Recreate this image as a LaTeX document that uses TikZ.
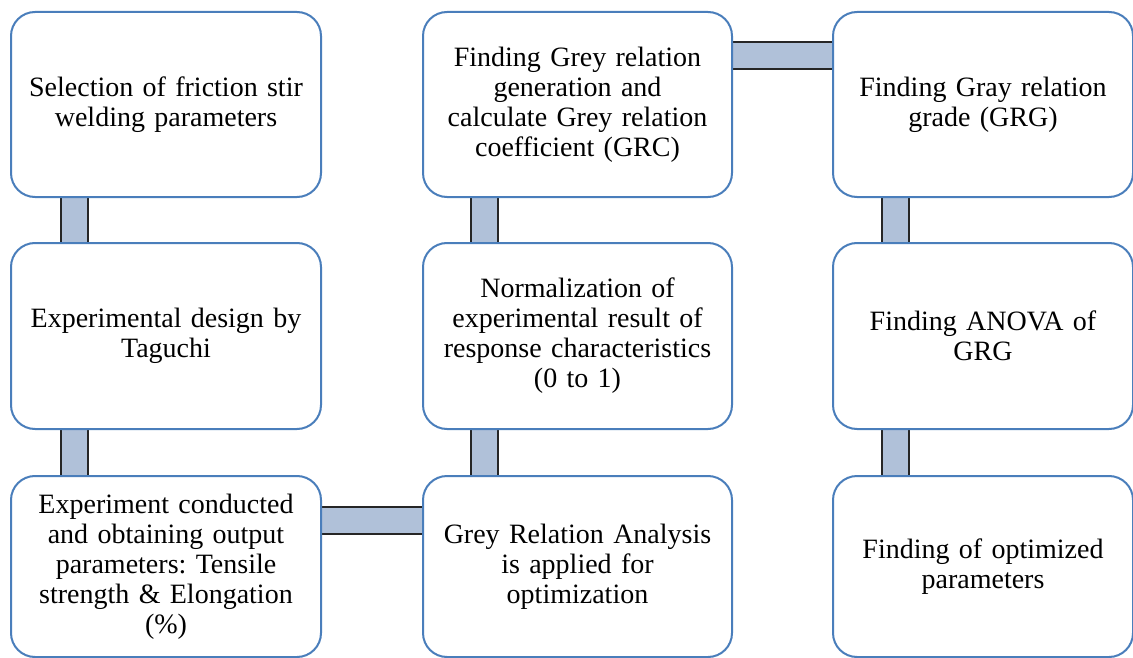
\documentclass[tikz,border=0pt]{standalone}
\usepackage{fontspec}
\setmainfont{Liberation Serif}
\usepackage{tikz}
\usetikzlibrary{positioning, backgrounds}
\definecolor{boxblue}{HTML}{4A7EBB}
\definecolor{linkfill}{HTML}{B0C1D9}
\frenchspacing

\tikzset{
    stage/.style={draw=boxblue, line width=2pt, fill=white, rounded corners=24pt,
        anchor=north west, align=center, text width=300pt, inner sep=0pt,
        font=\fontsize{28}{30}\selectfont},
    link/.style={draw=black!85, line width=2pt, double=linkfill, double distance=25pt}
}

\begin{document}
\begin{tikzpicture}[x=1pt, y=1pt]
                \useasboundingbox (0,0) rectangle (1133,-658);
                % first column
                \node[stage, minimum width=310pt, minimum height=185pt] (sel) at (10,-11)
                    {Selection of friction stir\\ welding parameters};
                \node[stage, minimum width=310pt, minimum height=186pt] (taguchi) at (10,-242)
                    {Experimental design by\\ Taguchi};
                \node[stage, minimum width=310pt, minimum height=181pt] (expt) at (10,-475)
                    {Experiment conducted\\ and obtaining output\\ parameters: Tensile\\ strength \& Elongation\\ (\%)};
                % second column
                \node[stage, minimum width=309pt, minimum height=185pt] (grc) at (422,-11)
                    {Finding Grey relation\\ generation and\\ calculate Grey relation\\ coefficient (GRC)};
                \node[stage, minimum width=309pt, minimum height=186pt] (norm) at (422,-242)
                    {Normalization of\\ experimental result of\\ response characteristics\\ (0 to 1)};
                \node[stage, minimum width=309pt, minimum height=181pt] (gra) at (422,-475)
                    {Grey Relation Analysis\\ is applied for\\ optimization};
                % third column
                \node[stage, minimum width=300pt, minimum height=185pt] (grg) at (832,-11)
                    {Finding Gray relation\\ grade (GRG)};
                \node[stage, minimum width=300pt, minimum height=186pt] (anova) at (832,-242)
                    {Finding ANOVA of\\ GRG};
                \node[stage, minimum width=300pt, minimum height=181pt] (opt) at (832,-475)
                    {Finding of optimized\\ parameters};
                % connectors
                \begin{scope}[on background layer]
                \draw[link] ([xshift=64pt]sel.south west) -- ([xshift=64pt]taguchi.north west);
                \draw[link] ([xshift=64pt]taguchi.south west) -- ([xshift=64pt]expt.north west);
                \draw[link] ([yshift=-45pt]expt.north east) -- ([yshift=-45pt]gra.north west);
                \draw[link] ([xshift=62pt]gra.north west) -- ([xshift=62pt]norm.south west);
                \draw[link] ([xshift=62pt]norm.north west) -- ([xshift=62pt]grc.south west);
                \draw[link] ([yshift=-45pt]grc.north east) -- ([yshift=-45pt]grg.north west);
                \draw[link] ([xshift=63pt]grg.south west) -- ([xshift=63pt]anova.north west);
                \draw[link] ([xshift=63pt]anova.south west) -- ([xshift=63pt]opt.north west);
                \end{scope}
            \end{tikzpicture}
\end{document}
